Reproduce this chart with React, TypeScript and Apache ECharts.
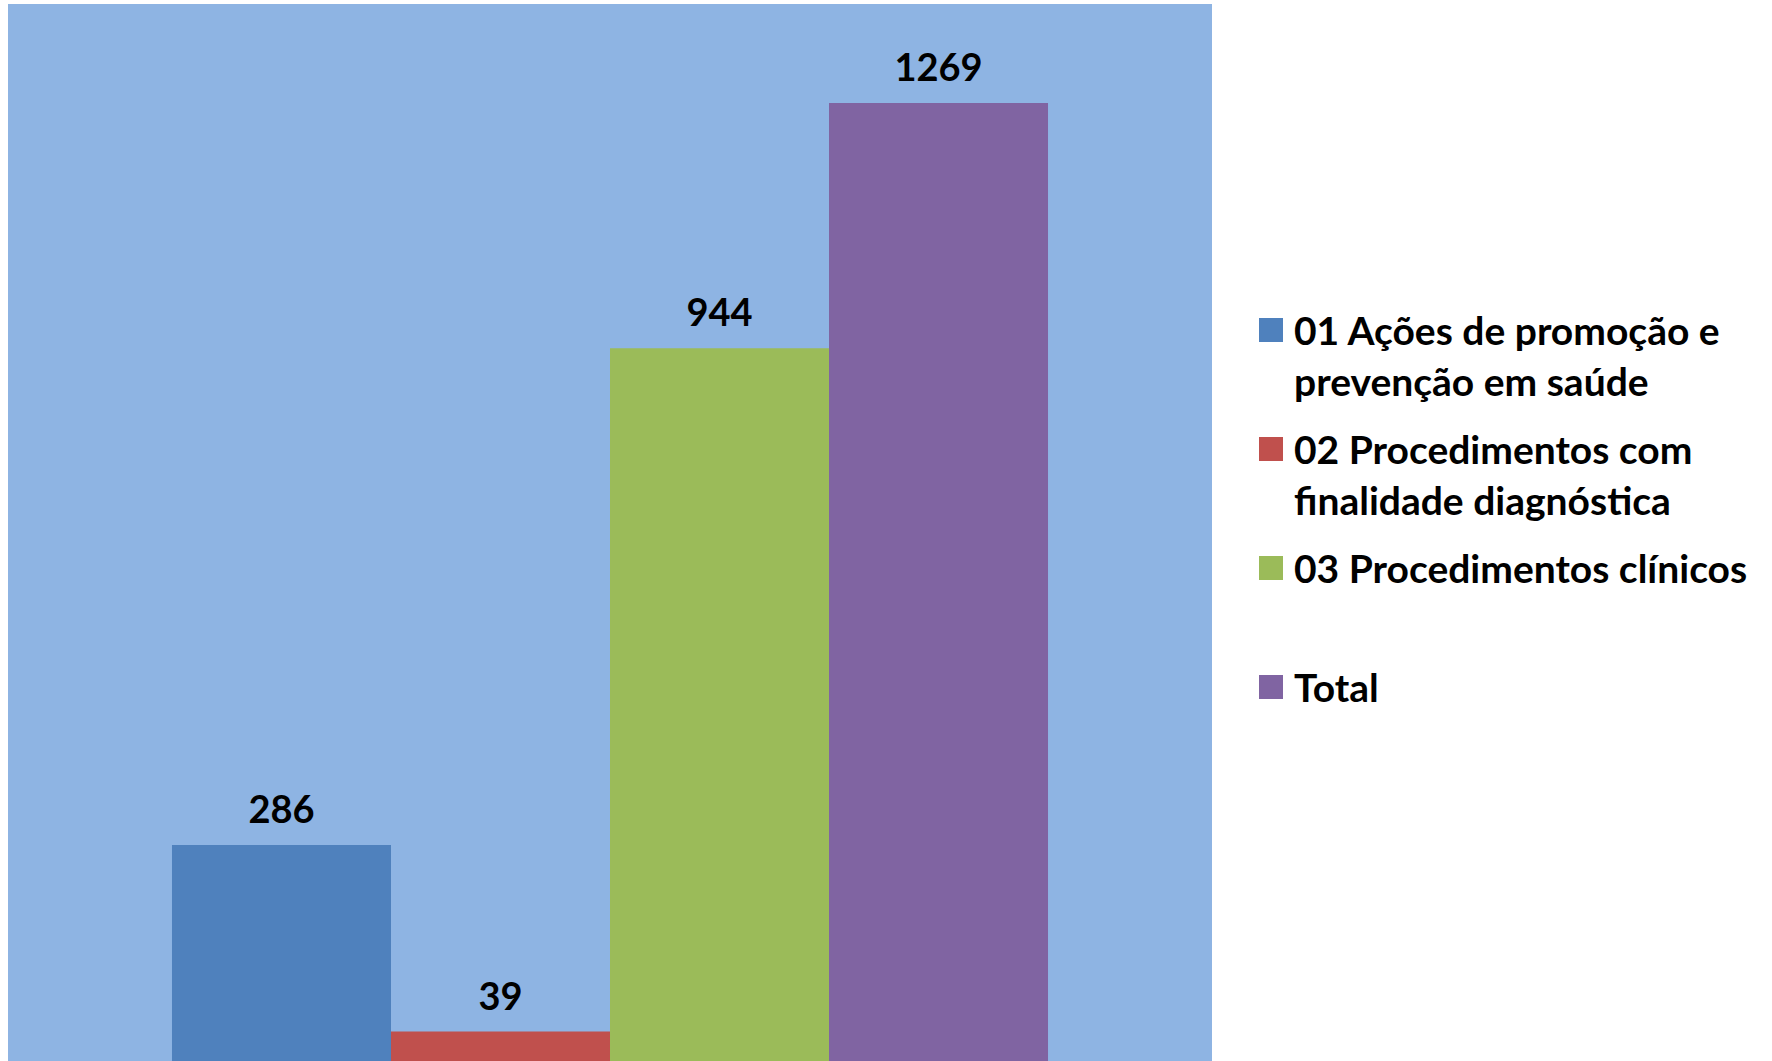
import React, { useEffect, useRef } from "react";
import * as echarts from "echarts";

const categories = [""];
const seriesNames = [
  "01 Ações de promoção e prevenção em saúde",
  "02 Procedimentos com finalidade diagnóstica",
  "03 Procedimentos clínicos",
  "Total",
];
const legendLines: string[][] = [
  ["01 Ações de promoção e", "prevenção em saúde"],
  ["02 Procedimentos com", "finalidade diagnóstica"],
  ["03 Procedimentos clínicos", ""],
  ["Total"],
];
const values = [286, 39, 944, 1269];
const colors = ["#4F81BD", "#C0504D", "#9BBB59", "#8064A2"];
const yMin = 0;
const yMax = 1400;

const FONT = "Lato";
const LEGEND_FS = 39;
const LH = 51;

export default function App() {
  const ref = useRef<HTMLDivElement>(null);
  useEffect(() => {
    if (!ref.current) return;
    const chart = echarts.init(ref.current, undefined, { renderer: "svg" });
    const rich: Record<string, any> = {
      sp: { width: 11, lineHeight: LH },
      ind: { width: 35, lineHeight: LH },
      t: { fontSize: LEGEND_FS, fontWeight: "bold", fontFamily: FONT, color: "#000", lineHeight: LH },
    };
    colors.forEach((c, i) => {
      rich["sq" + i] = { width: 24, height: 24, backgroundColor: c, lineHeight: LH };
    });
    chart.setOption({
      animation: false,
      backgroundColor: "#FFFFFF",
      grid: {
        left: 8,
        top: 4,
        width: 1204,
        height: 1060.6,
        show: true,
        backgroundColor: "#8EB4E3",
        borderWidth: 0,
        containLabel: false,
      },
      xAxis: {
        type: "category",
        data: categories,
        show: false,
      },
      yAxis: {
        type: "value",
        min: yMin,
        max: yMax,
        show: false,
        splitLine: { show: false },
      },
      legend: {
        orient: "vertical",
        left: 1254,
        top: 304.5,
        padding: 0,
        itemGap: 17,
        itemWidth: 0,
        itemHeight: 0,
        icon: "rect",
        selectedMode: false,
        data: seriesNames,
        formatter: (name: string) => {
          const i = seriesNames.indexOf(name);
          const lines = legendLines[i];
          let s = `{sq${i}|}{sp|}{t|${lines[0]}}`;
          if (lines.length > 1) {
            s += lines[1] ? `\n{ind|}{t|${lines[1]}}` : `\n{ind|}`;
          }
          return s;
        },
        textStyle: {
          fontSize: LEGEND_FS,
          fontWeight: "bold",
          fontFamily: FONT,
          color: "#000",
          lineHeight: LH,
          rich,
        },
      },
      series: seriesNames.map((name, i) => ({
        name,
        type: "bar",
        data: [values[i]],
        barGap: "0%",
        barCategoryGap: "27.24%",
        itemStyle: { color: colors[i] },
        label: {
          show: true,
          position: "top",
          distance: 18,
          fontSize: 38,
          fontWeight: "bold",
          fontFamily: FONT,
          color: "#000",
        },
      })),
    });
    return () => chart.dispose();
  }, []);
  return (
    <div
      ref={ref}
      style={{ position: "fixed", left: 0, top: 0, width: 1772, height: 1061 }}
    />
  );
}
